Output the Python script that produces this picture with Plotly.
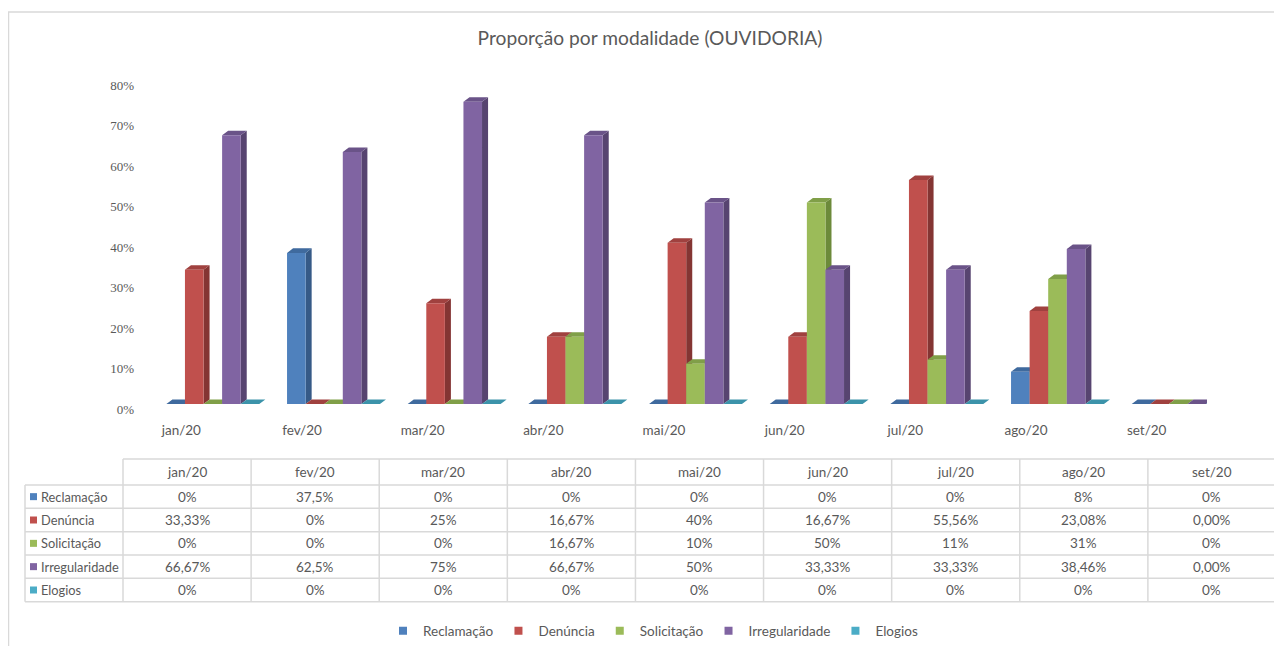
import plotly.graph_objects as go

# ---------------- data ----------------
months = ["jan/20", "fev/20", "mar/20", "abr/20", "mai/20", "jun/20", "jul/20", "ago/20", "set/20"]
series_names = ["Reclamação", "Denúncia", "Solicitação", "Irregularidade", "Elogios"]

reclamacao = [0, 37.5, 0, 0, 0, 0, 0, 8, 0]
denuncia = [33.33, 0, 25, 16.67, 40, 16.67, 55.56, 23.08, 0]
solicitacao = [0, 0, 0, 16.67, 10, 50, 11, 31, 0]
irregularidade = [66.67, 62.5, 75, 66.67, 50, 33.33, 33.33, 38.46, 0]
elogios = [0, 0, 0, 0, 0, 0, 0, 0, 0]

y_ticks = [0, 10, 20, 30, 40, 50, 60, 70, 80]
y_tick_labels = ["0%", "10%", "20%", "30%", "40%", "50%", "60%", "70%", "80%"]

txt_reclamacao = ["0%", "37,5%", "0%", "0%", "0%", "0%", "0%", "8%", "0%"]
txt_denuncia = ["33,33%", "0%", "25%", "16,67%", "40%", "16,67%", "55,56%", "23,08%", "0,00%"]
txt_solicitacao = ["0%", "0%", "0%", "16,67%", "10%", "50%", "11%", "31%", "0%"]
txt_irregularidade = ["66,67%", "62,5%", "75%", "66,67%", "50%", "33,33%", "33,33%", "38,46%", "0,00%"]
txt_elogios = ["0%", "0%", "0%", "0%", "0%", "0%", "0%", "0%", "0%"]

# ---------------- styles ----------------
front_colors = ["#4F81BD", "#C0504D", "#9BBB59", "#8064A2", "#4BACC6"]
side_colors = ["#365A87", "#843533", "#6C8A3A", "#574470", "#327F93"]
top_colors = ["#3F6A9E", "#A0413F", "#809F48", "#6A5388", "#3C93AA"]
TEXT = "#595959"
GRID = "#D9D9D9"
FONT = "Lato"

series_values = [reclamacao, denuncia, solicitacao, irregularidade, elogios]
series_text = [txt_reclamacao, txt_denuncia, txt_solicitacao, txt_irregularidade, txt_elogios]

# page offset (body margin) -> figure is drawn 8px right/down in the window
OFF = 8
W, H = 1282 - OFF, 646 - OFF
ML, MR, MT, MB = 113, 75, 52, 231
PW, PH = W - ML - MR, H - MT - MB
PLOT_BOTTOM_SCREEN = OFF + MT + PH  # 415

# 3D bar geometry (category units / percent units)
X0 = -0.124     # left edge of first bar relative to category tick
BW = 0.154      # front width of each bar
DX = 0.05       # depth shift (x)
DY = 1.12       # depth shift (y, %)


def px_x(sx):
    return (sx - OFF - ML) / PW


def px_y(sy):
    return (PLOT_BOTTOM_SCREEN - sy) / PH


fig = go.Figure()

for j, (name, vals) in enumerate(zip(series_names, series_values)):
    fx, fy, sx, sy, tx, ty = [], [], [], [], [], []
    for i, v in enumerate(vals):
        L = i + X0 + j * BW
        R = L + BW
        fx += [L, R, R, L, L, None]
        fy += [0, 0, v, v, 0, None]
        sx += [R, R + DX, R + DX, R, R, None]
        sy += [0, DY, v + DY, v, 0, None]
        tx += [L, R, R + DX, L + DX, L, None]
        ty += [v, v, v + DY, v + DY, v, None]
    for xs, ys, col in ((sx, sy, side_colors[j]), (tx, ty, top_colors[j]), (fx, fy, front_colors[j])):
        fig.add_trace(go.Scatter(
            x=xs, y=ys, mode="lines", fill="toself", fillcolor=col,
            line=dict(width=0, color=col), showlegend=False, hoverinfo="skip",
        ))

# legend entries
for name, col in zip(series_names, front_colors):
    fig.add_trace(go.Scatter(
        x=[None], y=[None], mode="markers", name=name,
        marker=dict(symbol="square", size=8, color=col), hoverinfo="skip",
    ))

# dummy trace on label axis
fig.add_trace(go.Scatter(x=[None], y=[None], yaxis="y2", showlegend=False, hoverinfo="skip"))

shapes = []
annotations = []

# outer chart border
shapes.append(dict(type="rect", xref="paper", yref="paper",
                   x0=px_x(8.5), x1=px_x(1300), y0=px_y(670), y1=px_y(12),
                   line=dict(color=GRID, width=1.5), fillcolor="rgba(0,0,0,0)", layer="below"))

# ---------------- data table ----------------
T_LEFT, T_COL0, T_RIGHT = 25, 123, 1276
CW = (T_RIGHT - T_COL0) / len(months)
ROWS_Y = [459, 485, 508.3, 531.7, 555, 578.3, 601.7]
LC = dict(color=GRID, width=1.5)

shapes.append(dict(type="line", xref="paper", yref="paper", x0=px_x(T_COL0), x1=px_x(T_RIGHT),
                   y0=px_y(ROWS_Y[0]), y1=px_y(ROWS_Y[0]), line=LC))
for yy in ROWS_Y[1:]:
    shapes.append(dict(type="line", xref="paper", yref="paper", x0=px_x(T_LEFT), x1=px_x(T_RIGHT),
                       y0=px_y(yy), y1=px_y(yy), line=LC))
shapes.append(dict(type="line", xref="paper", yref="paper", x0=px_x(T_LEFT), x1=px_x(T_LEFT),
                   y0=px_y(ROWS_Y[1]), y1=px_y(ROWS_Y[-1]), line=LC))
for k in range(len(months) + 1):
    xx = T_COL0 + k * CW
    shapes.append(dict(type="line", xref="paper", yref="paper", x0=px_x(xx), x1=px_x(xx),
                       y0=px_y(ROWS_Y[0]), y1=px_y(ROWS_Y[-1]), line=LC))

cell_font = dict(family=FONT, size=13.5, color=TEXT)
row_font = dict(family=FONT, size=12.8, color=TEXT)
for k, m in enumerate(months):
    annotations.append(dict(xref="paper", yref="paper", x=px_x(T_COL0 + (k + 0.5) * CW),
                            y=px_y((ROWS_Y[0] + ROWS_Y[1]) / 2), text=m, showarrow=False,
                            xanchor="center", yanchor="middle", font=cell_font))
for r, (name, col, texts) in enumerate(zip(series_names, front_colors, series_text)):
    ycs = (ROWS_Y[r + 1] + ROWS_Y[r + 2]) / 2
    yc = px_y(ycs)
    # legend key square for the row
    shapes.append(dict(type="rect", xref="paper", yref="paper",
                       x0=px_x(30), x1=px_x(37), y0=px_y(ycs + 3.5), y1=px_y(ycs - 3.5),
                       fillcolor=col, line=dict(width=0)))
    annotations.append(dict(xref="paper", yref="paper", x=px_x(38.5), y=yc, text=name,
                            showarrow=False, xanchor="left", yanchor="middle", font=row_font))
    for k, t in enumerate(texts):
        annotations.append(dict(xref="paper", yref="paper", x=px_x(T_COL0 + (k + 0.5) * CW), y=yc,
                                text=t, showarrow=False, xanchor="center", yanchor="middle",
                                font=cell_font))

# y range for bars: 0% at screen pixel 404, 4.03 px per %
bar_lo = -(PLOT_BOTTOM_SCREEN - 404) / 4.03
bar_hi = (404 - (PLOT_BOTTOM_SCREEN - PH)) / 4.03
# label axis: 0% at screen pixel 409, 4.05 px per %
lab_lo = -(PLOT_BOTTOM_SCREEN - 409) / 4.05
lab_hi = (409 - (PLOT_BOTTOM_SCREEN - PH)) / 4.05

fig.update_layout(
    width=W, height=H,
    margin=dict(l=ML, r=MR, t=MT, b=MB, autoexpand=False),
    paper_bgcolor="white", plot_bgcolor="white",
    title=dict(text="Proporção por modalidade (OUVIDORIA)", x=(650 - OFF) / W, xref="container",
               xanchor="center", y=1 - (38 - OFF) / H, yref="container", yanchor="middle",
               font=dict(family=FONT, size=19.2, color=TEXT)),
    xaxis=dict(range=[-0.5, len(months) - 0.5], tickvals=list(range(len(months))), ticktext=months,
               showgrid=False, zeroline=False, showline=False, ticks="",
               tickfont=dict(family=FONT, size=13.5, color=TEXT), ticklabelstandoff=5,
               fixedrange=True),
    yaxis=dict(range=[bar_lo, bar_hi], showgrid=False, zeroline=False, showline=False,
               showticklabels=False, ticks="", fixedrange=True),
    yaxis2=dict(range=[lab_lo, lab_hi], overlaying="y", anchor="free", side="left",
                position=px_x(134), tickvals=y_ticks, ticktext=y_tick_labels, showgrid=False,
                zeroline=False, showline=False, ticks="",
                tickfont=dict(family="Liberation Serif", size=13, color=TEXT), fixedrange=True),
    legend=dict(orientation="h", x=px_x(653), xanchor="center", y=px_y(631), yanchor="middle",
                font=dict(family=FONT, size=13.5, color=TEXT), itemwidth=30,
                bgcolor="rgba(0,0,0,0)"),
    shapes=shapes,
    annotations=annotations,
    showlegend=True,
)

fig.write_html("out.html")
